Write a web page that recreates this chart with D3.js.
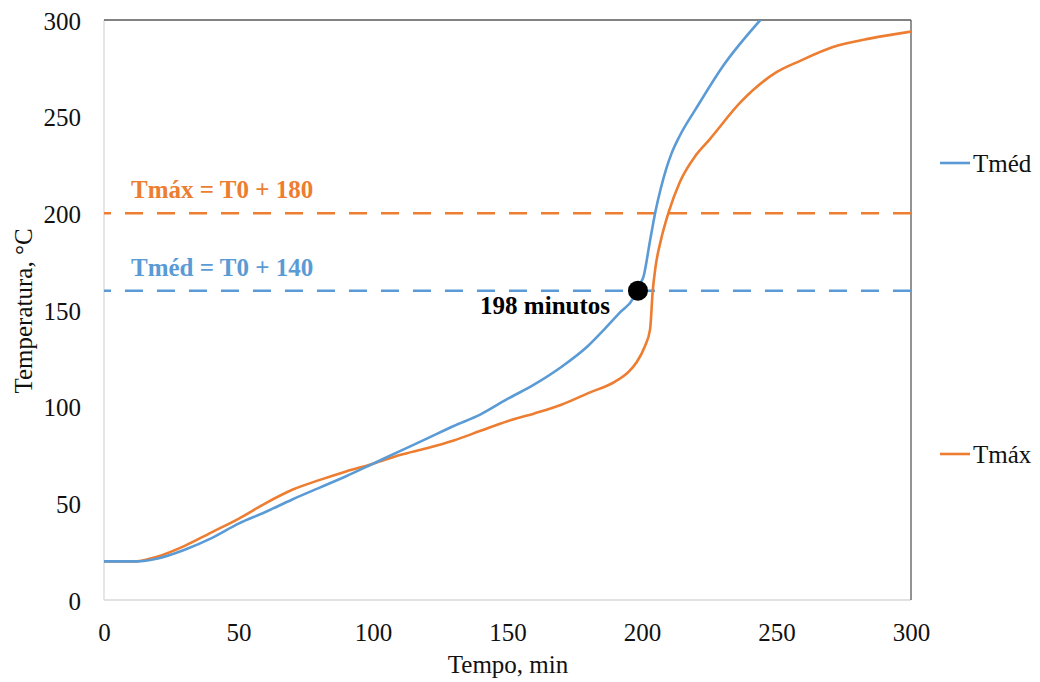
<!DOCTYPE html>
<html>
<head>
<meta charset="utf-8">
<script src="https://cdn.jsdelivr.net/npm/d3@7"></script>
<style>
  html, body { margin: 0; padding: 0; background: #fff; }
  svg { display: block; }
  svg text { font-family: "Liberation Serif", "Times New Roman", Times, Tinos, "DejaVu Serif", "Noto Serif", serif !important; }
</style>
</head>
<body>
<svg id="chart" width="1040" height="682"></svg>
<script>
// ---- data ----
const tmedTime = [0,12,20,30,40,50,60,70,80,90,100,110,120,130,140,150,160,170,180,186,192,196.7,198,199,200.5,203,205,207,209,211,214,220,230,244];
const tmedTemp = [20,20,21.5,26,32,39.5,45.5,52,58,64,70.5,77,83.5,90,96,104,111.5,120.5,131.5,140,149,156,160,163,167,186,201,213,223,231,240,254,276,300];
const tmaxTime = [0,12,20,30,40,50,60,70,80,90,100,110,120,130,140,150,160,170,180,190,195,198,201,203,204,205,207,210,214,220,225,237,250,259,271,285,300];
const tmaxTemp = [20,20,22.5,28,35,42,50,57,62,66.5,70.5,75,78.5,82.5,87.5,92.5,96.5,101,107,113,118,123,131,140,160,172,186,201,216,230,238,258,273,279,286,290.5,294];
const limitValues = [200, 160];
const limitLabels = ["Tmáx = T0 + 180", "Tméd = T0 + 140"];
const seriesNames = ["Tméd", "Tmáx"];
const markerPoint = [198.5, 160];
const markerLabel = "198 minutos";
const xTicks = [0,50,100,150,200,250,300];
const yTicks = [0,50,100,150,200,250,300];
const xTitle = "Tempo, min";
const yTitle = "Temperatura, °C";

// ---- layout ----
const FONT = '"Liberation Serif", "Times New Roman", Times, Tinos, "DejaVu Serif", "Noto Serif", serif';
const BLUE = "#5b9bd5", ORANGE = "#ed7d31";
const L = 104, R = 911, T = 20, B = 600;
const svg = d3.select("#chart");
const x = d3.scaleLinear().domain([0, 300]).range([L, R]);
const y = d3.scaleLinear().domain([0, 300]).range([B, T]);

svg.append("defs").append("clipPath").attr("id", "plotclip")
  .append("rect").attr("x", L).attr("y", T).attr("width", R - L).attr("height", B - T);

// borders
svg.append("line").attr("x1", L).attr("x2", L).attr("y1", T).attr("y2", B).attr("stroke", "#d9d9d9").attr("stroke-width", 1.3);
svg.append("line").attr("x1", L).attr("x2", R).attr("y1", B).attr("y2", B).attr("stroke", "#d9d9d9").attr("stroke-width", 1.3);
svg.append("line").attr("x1", L).attr("x2", R).attr("y1", T).attr("y2", T).attr("stroke", "#595959").attr("stroke-width", 1.3);
svg.append("line").attr("x1", R).attr("x2", R).attr("y1", T).attr("y2", B).attr("stroke", "#595959").attr("stroke-width", 1.3);

// axes (labels only)
const xAxis = d3.axisBottom(x).tickValues(xTicks).tickSize(0).tickPadding(0);
const gx = svg.append("g").attr("transform", `translate(0,${B})`).call(xAxis).attr("font-family", FONT);
gx.select(".domain").remove();
gx.selectAll("text").attr("y", 41).attr("dy", null).attr("font-size", 25).attr("fill", "#111");

const yAxis = d3.axisLeft(y).tickValues(yTicks).tickSize(0).tickPadding(0);
const gy = svg.append("g").attr("transform", `translate(81,0)`).call(yAxis).attr("font-family", FONT);
gy.select(".domain").remove();
gy.selectAll("text").attr("x", 0).attr("dy", 9).attr("font-size", 25).attr("fill", "#111");

// axis titles
svg.append("text").attr("x", 508).attr("y", 673).attr("text-anchor", "middle")
  .attr("font-size", 25).attr("fill", "#111").text(xTitle);
svg.append("text").attr("transform", "translate(32,311) rotate(-90)").attr("text-anchor", "middle")
  .attr("font-size", 25).attr("fill", "#111").text(yTitle);

// limit lines
const limitColors = [ORANGE, BLUE];
limitValues.forEach((v, i) => {
  svg.append("line").attr("x1", L).attr("x2", R).attr("y1", y(v)).attr("y2", y(v))
    .attr("stroke", limitColors[i]).attr("stroke-width", 2.5)
    .attr("stroke-dasharray", "18,14").attr("stroke-dashoffset", 11);
  svg.append("text").attr("x", 131).attr("y", y(v) - 15)
    .attr("font-size", 25).attr("font-weight", "bold").attr("fill", limitColors[i])
    .text(limitLabels[i]);
});

// series
const line = d3.line().x(d => x(d[0])).y(d => y(d[1])).curve(d3.curveMonotoneX);
const series = [
  { name: seriesNames[0], color: BLUE, data: d3.zip(tmedTime, tmedTemp) },
  { name: seriesNames[1], color: ORANGE, data: d3.zip(tmaxTime, tmaxTemp) }
];
const gl = svg.append("g").attr("clip-path", "url(#plotclip)");
series.slice().reverse().forEach(s => {
  gl.append("path").attr("d", line(s.data)).attr("fill", "none")
    .attr("stroke", s.color).attr("stroke-width", 2.6).attr("stroke-linejoin", "round");
});

// marker
svg.append("circle").attr("cx", x(markerPoint[0])).attr("cy", y(markerPoint[1])).attr("r", 10).attr("fill", "#000");
svg.append("text").attr("x", 610).attr("y", 314).attr("text-anchor", "end")
  .attr("font-size", 25).attr("font-weight", "bold").attr("fill", "#000").text(markerLabel);

// legend
const legendY = [163, 454];
series.forEach((s, i) => {
  svg.append("line").attr("x1", 940).attr("x2", 970).attr("y1", legendY[i]).attr("y2", legendY[i])
    .attr("stroke", s.color).attr("stroke-width", 2.6);
  svg.append("text").attr("x", 973).attr("y", legendY[i] + 9).attr("font-size", 25)
    .attr("fill", "#111").text(s.name);
});
</script>
</body>
</html>
